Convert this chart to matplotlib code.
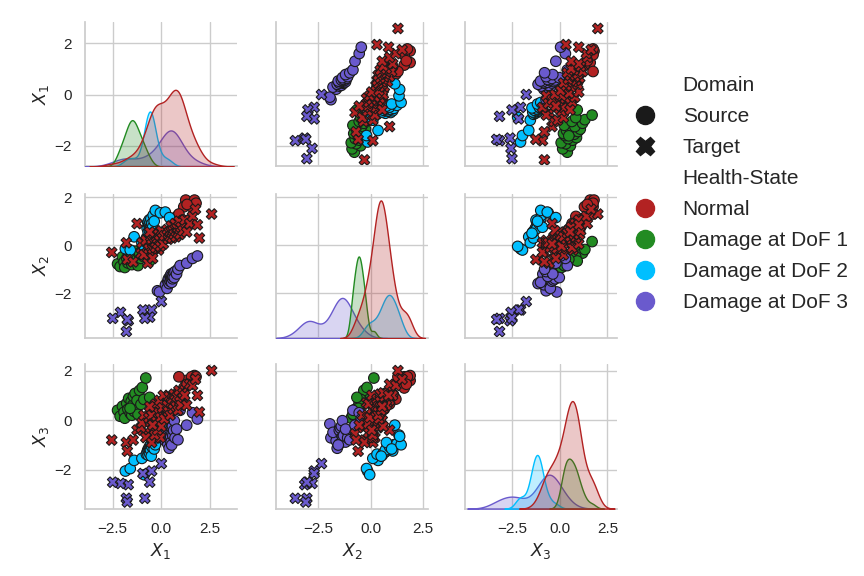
import numpy as np
import pandas as pd
import matplotlib
matplotlib.use("Agg")
import matplotlib.pyplot as plt
import seaborn as sns
from matplotlib.lines import Line2D

# ---------------- data ----------------
# Source / Normal
sn_x1 = [1.25, 1.70, 1.15, 1.55, 1.78, 1.32, 0.95, 0.80, 0.90, 1.00, 1.05, 0.60, 0.85,
         0.40, 0.95, 0.70, 1.10, 0.35, 0.75, 0.50, 0.90, 0.30, 0.65, 0.85, 0.55]
sn_x2 = [1.88, 1.88, 1.60, 1.60, 1.75, 1.70, 1.10, 1.20, 1.30, 0.95, 0.85, 0.75, 0.80,
         0.55, 0.70, 0.50, 1.05, 0.40, 0.45, 0.60, 0.90, 0.30, 0.65, 0.75, 0.50]
sn_x3 = [1.60, 1.80, 1.30, 1.75, 1.75, 1.45, 1.00, 0.85, 1.75, 0.95, 0.80, 0.60, 0.90,
         0.50, 0.75, 0.70, 1.05, 0.40, 0.55, 0.95, 0.65, 0.25, 0.45, 1.10, 0.80]
# Source / Damage at DoF 1
s1_x1 = [-2.25, -2.12, -2.00, -1.92, -1.88, -1.78, -1.72, -1.68, -1.60, -1.55, -1.52, -1.48, -1.44,
         -1.40, -1.35, -1.30, -1.25, -1.20, -1.12, -1.05, -0.98, -0.90, -0.80, -0.60, -1.61]
s1_x2 = [-0.78, -0.89, -0.48, -0.70, -0.93, -0.55, -0.74, -0.40, -0.63, -0.29, -0.81, -0.51, -0.36,
         -0.66, -0.25, -0.59, -0.44, -0.85, -0.33, -0.55, -0.18, -0.48, 0.15, -0.66, -0.59]
s1_x3 = [0.40, 0.16, 0.56, 0.32, 0.08, 0.68, 0.44, 0.88, 0.28, 0.76, 0.20, 0.60, 0.96,
         0.36, 1.08, 0.52, 0.80, 0.24, 1.20, 0.64, 1.32, 0.84, 1.70, 0.92, 0.48]
# Source / Damage at DoF 2
s2_x1 = [-1.85, -1.60, -1.40, -1.00, -0.88, -0.77, -0.73, -0.70, -0.68, -0.65, -0.63, -0.61, -0.59,
         -0.58, -0.56, -0.54, -0.52, -0.49, -0.45, -0.42, -0.37, -0.31, -0.05, 0.20, 0.42]
s2_x2 = [-0.15, -0.20, 0.35, 0.10, -0.05, 0.30, 0.70, 0.95, 0.55, 0.85, 1.05, 0.60, 0.80,
         0.95, 0.70, 1.10, 0.50, 0.90, 0.75, 1.25, 1.00, 1.45, 1.35, 1.38, 1.15]
s2_x3 = [-2.05, -1.95, -1.62, -1.54, -2.20, -1.37, -1.28, -1.20, -1.41, -1.12, -1.24, -1.33, -1.03,
         -1.16, -1.20, -0.99, -1.45, -1.07, -0.90, -0.95, -1.16, -0.99, -0.60, -0.65, -0.20]
# Source / Damage at DoF 3
s3_x1 = [-0.20, -0.10, 0.21, 0.29, 0.33, 0.36, 0.40, 0.44, 0.45, 0.48, 0.50, 0.51, 0.53,
         0.55, 0.57, 0.59, 0.63, 0.66, 0.70, 0.78, 0.85, 0.96, 1.30, 1.60, 1.85]
s3_x2 = [-1.90, -1.95, -1.65, -1.80, -1.50, -1.40, -1.60, -1.30, -1.50, -1.35, -1.20, -1.45, -1.55,
         -1.25, -1.40, -1.30, -1.15, -1.35, -1.10, -1.20, -1.00, -0.85, -0.75, -0.55, -0.45]
s3_x3 = [-0.71, -0.15, -0.83, -0.49, -0.96, -0.58, -1.13, -0.79, -0.41, -0.66, -0.88, -0.32, -1.00,
         -0.53, -0.24, -0.62, -0.41, -0.02, -0.71, -0.36, -0.79, 0.40, -0.20, 0.30, 0.05]
# Target / Normal
tn_x1 = [-2.55, 2.58, 1.95, -1.25, -1.80, -1.75, -0.70, -1.45, -1.05, -1.00, -0.90, -0.80, -0.65,
         -0.55, -0.50, -0.40, -0.35, -0.30, -0.20, -0.15, -0.10, -0.05, -0.50, -0.45, -0.40, -0.35,
         -0.30, -0.25, -0.20, -0.15, -0.10, -0.05, 0.00, 0.05, 0.10, 0.15, 0.30, 0.35, 0.40, 0.45,
         0.50, 0.55, 0.60, 0.65, 0.70, 0.75, 0.80, 0.85, 0.90, 0.95, 1.00, 1.10, 1.20, 1.30,
         1.45, 1.60, 1.85, 1.75, -0.60, -0.45]
tn_x2 = [-0.30, 1.30, 0.30, 0.90, 0.10, -0.60, -0.75, -0.70, -0.35, 0.10, -0.40, 0.20, -0.15,
         0.35, -0.30, 0.05, 0.45, -0.10, 0.25, -0.20, 0.55, 0.10, 0.25, -0.15, 0.50, 0.10,
         -0.10, 0.35, 0.05, 0.45, 0.20, -0.05, 0.60, 0.30, 0.05, 0.40, 0.65, 0.25, 0.55, 0.35,
         0.80, 0.30, 0.60, 0.45, 0.90, 0.35, 0.70, 0.50, 1.00, 0.45, 0.75, 0.60, 1.05, 0.55,
         0.90, 1.20, 0.85, 1.50, 0.55, -0.55]
tn_x3 = [-0.80, 2.00, 0.33, -0.40, -0.90, -1.25, -0.55, -0.80, -0.30, -0.10, 0.20, -0.70, 0.10,
         -0.30, -0.90, 0.45, -0.10, -0.50, 0.30, 0.70, 0.00, -0.70, 0.20, -0.15, 0.55, -0.60,
         0.65, -0.05, -0.40, 0.30, 0.80, 0.10, -0.25, 0.50, 1.00, 0.05, 0.60, 0.35, 0.95, 0.20,
         0.70, 0.85, 0.45, 1.05, 0.80, 0.55, 0.95, 0.40, 1.20, 0.75, 0.60, 1.10, 1.00, 0.60,
         1.45, 1.40, 1.00, 1.65, 0.55, -0.20]
# Target / Damage at DoF 3
t3_x1 = [0.00, -0.50, -0.95, -0.60, -0.85, -1.70, -1.80, -2.10, -2.50, -1.75]
t3_x2 = [-2.35, -2.70, -2.70, -3.00, -3.05, -3.15, -3.60, -2.80, -3.05, -3.10]
t3_x3 = [-1.75, -2.05, -2.15, -2.50, -3.15, -2.60, -3.15, -2.55, -2.50, -3.30]

states = ["Normal", "Damage at DoF 1", "Damage at DoF 2", "Damage at DoF 3"]
domains = ["Source", "Target"]
colors = ["#B22222", "#228B22", "#00BFFF", "#6A5ACD"]
var_labels = ["$X_1$", "$X_2$", "$X_3$"]
ticks = [-2.5, 0.0, 2.5]

groups = [
    ("Source", "Normal", sn_x1, sn_x2, sn_x3),
    ("Source", "Damage at DoF 1", s1_x1, s1_x2, s1_x3),
    ("Source", "Damage at DoF 2", s2_x1, s2_x2, s2_x3),
    ("Source", "Damage at DoF 3", s3_x1, s3_x2, s3_x3),
    ("Target", "Normal", tn_x1, tn_x2, tn_x3),
    ("Target", "Damage at DoF 3", t3_x1, t3_x2, t3_x3),
]
frames = []
for dom, st, a, b, c in groups:
    frames.append(pd.DataFrame({"X1": a, "X2": b, "X3": c,
                                "Domain": dom, "Health-State": st}))
df = pd.concat(frames, ignore_index=True)
vars_ = ["X1", "X2", "X3"]

# ---------------- plotting ----------------
sns.set_theme(style="whitegrid")
plt.rcParams["font.family"] = ["Liberation Sans", "DejaVu Sans"]

fig, axes = plt.subplots(3, 3, figsize=(8.64, 5.76), dpi=100,
                         sharex="col", sharey="row")
palette = dict(zip(states, colors))

lefts = [0.098, 0.3195, 0.538]
bottoms = [0.711, 0.413, 0.117]
w, h = 0.176, 0.251
xlims = [(-3.94, 3.87), (-4.52, 2.74), (-4.97, 3.0)]

diag_axes = []
for i in range(3):
    for j in range(3):
        ax = axes[i, j]
        ax.set_position([lefts[j], bottoms[i], w, h])
        if i == j:
            dax = ax.twinx()
            if diag_axes:
                dax.sharey(diag_axes[0])
            diag_axes.append(dax)
            dax.set_position([lefts[j], bottoms[i], w, h])
            dax.set_axis_off()
            sns.kdeplot(data=df, x=vars_[j], hue="Health-State", hue_order=states,
                        palette=palette, fill=True, ax=dax, legend=False,
                        warn_singular=False, linewidth=1)
        else:
            sns.scatterplot(data=df, x=vars_[j], y=vars_[i], hue="Health-State",
                            hue_order=states, palette=palette, style="Domain",
                            style_order=domains, markers=["o", "X"], s=58,
                            edgecolor="k", linewidth=0.8, ax=ax, legend=False)
        for sp in ["top", "right"]:
            ax.spines[sp].set_visible(False)
        ax.set_xlabel(var_labels[j] if i == 2 else "", fontsize=12.5)
        ax.set_ylabel(var_labels[i] if j == 0 else "", fontsize=12.5, labelpad=2)

for j in range(3):
    axes[0, j].set_xlim(*xlims[j])
    axes[0, j].set_xticks(ticks)

for ax in axes.flat:
    ax.tick_params(labelbottom=False, labelleft=False, left=False, bottom=False,
                   right=False, labelsize=11)
for j in range(3):
    axes[2, j].tick_params(labelbottom=True)
for i in range(3):
    axes[i, 0].tick_params(labelleft=True)

# Legend
handles = [
    Line2D([], [], linestyle="none", marker=None),
    Line2D([], [], linestyle="none", marker="o", color="k", markersize=13),
    Line2D([], [], linestyle="none", marker="X", color="k", markersize=13),
    Line2D([], [], linestyle="none", marker=None),
] + [Line2D([], [], linestyle="none", marker="o", color=c, markersize=13) for c in colors]
labels = ["Domain", "Source", "Target", "Health-State"] + states
fig.legend(handles, labels, loc="center left", bbox_to_anchor=(0.701, 0.663),
           frameon=False, fontsize=15, labelspacing=0.58)

fig.savefig("out.png", dpi=100)
